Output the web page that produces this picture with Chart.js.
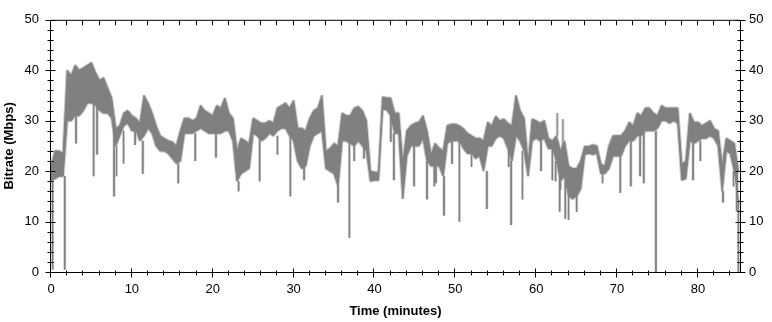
<!DOCTYPE html>
<html>
<head>
<meta charset="utf-8">
<script src="https://cdn.jsdelivr.net/npm/chart.js@4"></script>
<style>
  html, body { margin: 0; padding: 0; background: #fff; }
  #chart { display: block; }
</style>
</head>
<body>
<canvas id="chart" width="772" height="322"></canvas>
<script>
// sample time (minutes), one every half minute
const minutes = [
  0, 0.5, 1, 1.5, 2, 2.5, 3, 3.5, 4, 4.5,
  5, 5.5, 6, 6.5, 7, 7.5, 8, 8.5, 9, 9.5,
  10, 10.5, 11, 11.5, 12, 12.5, 13, 13.5, 14, 14.5,
  15, 15.5, 16, 16.5, 17, 17.5, 18, 18.5, 19, 19.5,
  20, 20.5, 21, 21.5, 22, 22.5, 23, 23.5, 24, 24.5,
  25, 25.5, 26, 26.5, 27, 27.5, 28, 28.5, 29, 29.5,
  30, 30.5, 31, 31.5, 32, 32.5, 33, 33.5, 34, 34.5,
  35, 35.5, 36, 36.5, 37, 37.5, 38, 38.5, 39, 39.5,
  40, 40.5, 41, 41.5, 42, 42.5, 43, 43.5, 44, 44.5,
  45, 45.5, 46, 46.5, 47, 47.5, 48, 48.5, 49, 49.5,
  50, 50.5, 51, 51.5, 52, 52.5, 53, 53.5, 54, 54.5,
  55, 55.5, 56, 56.5, 57, 57.5, 58, 58.5, 59, 59.5,
  60, 60.5, 61, 61.5, 62, 62.5, 63, 63.5, 64, 64.5,
  65, 65.5, 66, 66.5, 67, 67.5, 68, 68.5, 69, 69.5,
  70, 70.5, 71, 71.5, 72, 72.5, 73, 73.5, 74, 74.5,
  75, 75.5, 76, 76.5, 77, 77.5, 78, 78.5, 79, 79.5,
  80, 80.5, 81, 81.5, 82, 82.5, 83, 83.5, 84, 84.5,
  85
];

// top and bottom of the dense bitrate band (Mbps)
const upper = [
  21, 24, 24, 23.5, 40, 39, 41, 40, 40.5, 41,
  41.5, 39.5, 38, 38.5, 36.5, 34.5, 28.5, 29, 31.5, 32,
  31, 30.5, 29.5, 35, 33.5, 31.5, 29, 27, 26.5, 26,
  25.8, 25, 28, 30.5, 30.5, 30, 30.5, 33, 32, 31.5,
  31, 33, 32.5, 34.5, 31.5, 30.5, 24, 26.5, 26, 25.5,
  30.5, 30, 29.5, 29.5, 30, 29.5, 32.5, 33, 33.5, 32.5,
  34, 28.5, 28.5, 28, 30.5, 32, 32.5, 35, 24, 24.5,
  25.5, 25, 31.5, 31, 31, 32.5, 32.8, 32, 30, 20,
  19.8, 19.8, 34.7, 34.5, 34.5, 31.5, 31.5, 21.5, 28, 29,
  29.5, 29.7, 31, 28, 23.3, 25.5, 24.6, 24, 29, 29.3,
  29.3, 29, 28.4, 27.5, 27, 26.5, 26.5, 26, 29.7, 29,
  30.9, 30, 30.3, 29.5, 29, 35, 32, 30.5, 21.5, 30.3,
  30, 29.5, 30, 26.5, 26, 27, 24, 26, 21, 20.5,
  20.5, 22, 24.9, 24.9, 25.2, 25, 21.4, 21, 25, 27,
  27, 27, 28, 29.7, 29, 31.5, 31, 32.5, 32.5, 31.5,
  31, 33, 32.5, 32.5, 32.5, 32.5, 21.4, 22, 31.5, 29.7,
  29.7, 29, 29.5, 30, 28.4, 28, 21, 26.5, 26, 25.5,
  20
];
const lower = [
  18, 18.5, 19, 19, 30, 30, 31, 31, 32, 33.5,
  33.5, 33, 32, 31.5, 31.5, 30.5, 25, 27, 29, 29.5,
  28, 28, 26, 27, 28.5, 27.5, 25, 24, 24, 23.5,
  22.5, 21.5, 22, 27.5, 27.5, 27.5, 28, 28.5, 28, 27.5,
  27.5, 27.5, 27.5, 28, 28, 26, 18, 19.5, 20, 20.5,
  27.5, 27, 26, 26.5, 27.5, 27, 28, 28.5, 28.5, 27,
  26, 22, 20.5, 21, 25, 27, 27.5, 28, 20.5, 20,
  19.5, 17, 26, 26, 25.5, 25, 26, 25, 24, 18,
  18.2, 18.2, 32.2, 32.2, 31, 27.5, 27.5, 14.5, 23, 25,
  25, 25, 26.5, 22, 21, 21, 21, 19, 25.5, 26,
  26, 26, 24.5, 23.5, 23.5, 22.5, 23, 20, 25, 25,
  26.5, 27, 26.5, 24.5, 22, 27, 26, 24, 19, 26,
  26.5, 26, 26.5, 24.5, 24.5, 22, 18, 19, 15, 14.5,
  15, 16.5, 23.3, 23.5, 23.3, 23.5, 19.5, 19.5, 20.5, 23,
  23, 23, 25, 26, 26, 27, 27, 28, 28, 28,
  28.5, 30, 30, 29.5, 30, 29.5, 18.2, 18.5, 26, 25.5,
  26, 26.5, 26.5, 27, 26.5, 25, 16, 24, 23.5, 20,
  14
];

// thin spikes that leave the band: time, band value where it starts, value it reaches
const spikeMinutes = [
  0.2, 1.7, 3.1, 5.27, 5.7, 7.8, 8.1, 8.97, 10.4, 11.35,
  15.74, 17.84, 20.4, 23.2, 25.8, 28.0, 29.6, 31.3, 35.5, 36.9,
  37.5, 38.7, 42.02, 42.4, 44.9, 46.5, 47.4, 47.6, 48.6, 49.6,
  50.5, 52.0, 53.9, 56.6, 56.9, 58.3, 60.6, 62.0, 62.4, 62.6,
  62.9, 63.0, 63.3, 63.6, 64.0, 65.0, 68.2, 70.4, 71.7, 72.85,
  73.3, 74.8, 79.4, 80.3, 83.1, 84.4, 84.8, 85.0
];
const spikeBase = [
  18, 19, 31, 33.5, 33, 30.5, 25, 28, 28, 26,
  21.5, 27.5, 27.5, 18, 27, 27, 27, 21, 17, 26,
  25, 25, 31, 27.5, 25, 22, 21, 21, 19, 26,
  26, 23.5, 20, 24.5, 22, 24, 26, 24.5, 22, 27,
  20, 18, 24, 19, 15, 15, 19.5, 23, 26, 27,
  28, 28, 25.5, 26, 16, 20, 20, 14
];
const spikeTo = [
  0.5, 0.5, 25.5, 19, 23.3, 15, 19, 21.5, 25.2, 19.5,
  17.6, 22, 22.7, 16, 18, 23.3, 15, 18.2, 13.8, 6.8,
  22, 22.5, 25.8, 18.2, 17, 14.4, 17, 17.6, 11.2, 21.4,
  10, 20.8, 12.5, 20.8, 9.3, 14.4, 20, 18.2, 18, 31.5,
  12, 16.3, 30.3, 10.6, 10.3, 11.9, 17.6, 15.7, 17, 19,
  17.6, 0, 18.2, 22, 13.8, 17, 12, 0
];

const xTickValues = [0, 10, 20, 30, 40, 50, 60, 70, 80];
const yTickValues = [0, 10, 20, 30, 40, 50];

const topPts = minutes.map((t, i) => ({ x: t, y: upper[i] }));
const bottomPts = minutes.map((t, i) => ({ x: t, y: lower[i] }));
const spikePts = [];
spikeMinutes.forEach((t, i) => {
  spikePts.push({ x: t, y: spikeBase[i] }, { x: t, y: spikeTo[i] }, { x: t, y: null });
});

const tickFont = { family: '"Liberation Sans", Arial, sans-serif', size: 13 };
const titleFont = { family: '"Liberation Sans", Arial, sans-serif', size: 13, weight: 'bold' };
const traceGrey = '#808080';
const haloGrey = '#cdcdcd';

// frame with major/minor tick marks, drawn over the trace
const frameTicks = {
  id: 'frameTicks',
  afterDatasetsDraw(chart) {
    const { ctx, chartArea: a, scales } = chart;
    const L = a.left - 0.5, R = a.right + 0.5, T = a.top + 0.5, B = a.bottom + 0.5;
    ctx.save();
    ctx.strokeStyle = '#000';
    ctx.lineWidth = 1;
    ctx.beginPath();
    ctx.rect(L, T, R - L, B - T);
    for (let v = 0; v <= 84; v += 2) {
      const px = Math.round(scales.x.getPixelForValue(v)) - 0.5;
      const big = v % 10 === 0;
      ctx.moveTo(px, B - (big ? 4 : 2));
      ctx.lineTo(px, B + (big ? 5 : 3));
      ctx.moveTo(px, T);
      ctx.lineTo(px, T + 5);
    }
    for (let v = 0; v <= 50; v += 2) {
      const py = Math.round(scales.y.getPixelForValue(v)) + 0.5;
      const big = v % 10 === 0;
      ctx.moveTo(L - (big ? 5 : 3), py);
      ctx.lineTo(L + (big ? 5 : 3), py);
      ctx.moveTo(R - (big ? 5 : 3), py);
      ctx.lineTo(R + (big ? 5 : 3), py);
    }
    ctx.stroke();
    ctx.restore();
  }
};

const lineStyle = { borderJoinStyle: 'bevel', pointRadius: 0, tension: 0 };

new Chart(document.getElementById('chart'), {
  type: 'line',
  data: {
    datasets: [
      { ...lineStyle, data: topPts, borderColor: haloGrey, borderWidth: 3, order: 5 },
      { ...lineStyle, data: bottomPts, borderColor: haloGrey, borderWidth: 3, order: 5 },
      { ...lineStyle, data: spikePts, borderColor: haloGrey, borderWidth: 3, spanGaps: false, order: 4 },
      { ...lineStyle, data: topPts, borderColor: traceGrey, backgroundColor: traceGrey, borderWidth: 1, fill: '+1', order: 2 },
      { ...lineStyle, data: bottomPts, borderColor: traceGrey, borderWidth: 1, order: 2 },
      { ...lineStyle, data: spikePts, borderColor: traceGrey, borderWidth: 1, spanGaps: false, order: 1 }
    ]
  },
  options: {
    responsive: false,
    animation: false,
    layout: { padding: { top: 10, left: 0, right: 0, bottom: 0 } },
    plugins: { legend: { display: false }, tooltip: { enabled: false } },
    scales: {
      x: {
        type: 'linear',
        min: 0,
        max: 85.2,
        afterBuildTicks: s => { s.ticks = xTickValues.map(v => ({ value: v })); },
        afterFit: s => { s.height = 50; },
        grid: { display: false, drawTicks: false },
        border: { display: false },
        ticks: { color: '#000', font: tickFont, padding: 10, maxRotation: 0 },
        title: { display: true, text: 'Time (minutes)', color: '#000', font: titleFont, padding: { top: 0, bottom: 3 } }
      },
      y: {
        position: 'left',
        min: 0,
        max: 50,
        afterBuildTicks: s => { s.ticks = yTickValues.map(v => ({ value: v })); },
        afterFit: s => { s.width = 51; },
        grid: { display: false, drawTicks: false },
        border: { display: false },
        ticks: { color: '#000', font: tickFont, padding: 12 },
        title: { display: true, text: 'Bitrate (Mbps)', color: '#000', font: titleFont, padding: { top: 2, bottom: 0 } }
      },
      y2: {
        position: 'right',
        min: 0,
        max: 50,
        afterBuildTicks: s => { s.ticks = yTickValues.map(v => ({ value: v })); },
        afterFit: s => { s.width = 32; },
        grid: { display: false, drawTicks: false },
        border: { display: false },
        ticks: { color: '#000', font: tickFont, padding: 9 }
      }
    }
  },
  plugins: [frameTicks]
});
</script>
</body>
</html>
